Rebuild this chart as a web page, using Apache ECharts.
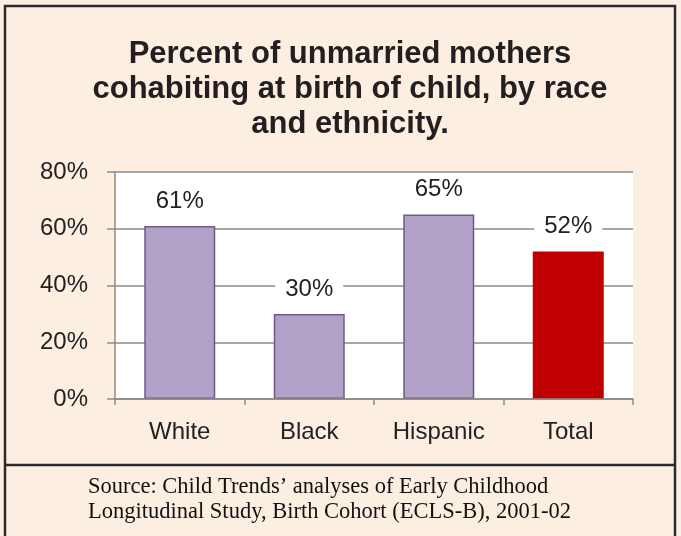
<!DOCTYPE html>
<html>
<head>
<meta charset="utf-8">
<script src="https://cdn.jsdelivr.net/npm/echarts@6/dist/echarts.min.js"></script>
<style>
html,body{margin:0;padding:0;background:#fdeee2;}
#c{width:681px;height:536px;}
</style>
</head>
<body>
<div id="c"></div>
<script>
var titleLines = ['Percent of unmarried mothers', 'cohabiting at birth of child, by race', 'and ethnicity.'];
var categories = ['White', 'Black', 'Hispanic', 'Total'];
var values = [61, 30, 65, 52];
var highlightCategory = 'Total';
var yTicks = [0, 20, 40, 60, 80];
var sourceLines = ['Source: Child Trends\u2019 analyses of Early Childhood', 'Longitudinal Study, Birth Cohort (ECLS-B), 2001-02'];

var chart = echarts.init(document.getElementById('c'), null, {renderer: 'canvas'});
var axisGray = '#8a8a8a';
var textDark = '#222';

var barData = values.map(function (v, i) {
  var isHi = categories[i] === highlightCategory;
  return {
    value: v,
    itemStyle: isHi ? {color: '#c00000', borderColor: '#c00000', borderWidth: 0}
                    : {color: '#b2a1c7', borderColor: '#6e5a8a', borderWidth: 1.5}
  };
});

chart.setOption({
  backgroundColor: '#fdeee2',
  animation: false,
  title: {
    text: titleLines.join('\n'),
    left: 345,
    textAlign: 'center',
    top: 32,
    textStyle: {
      fontFamily: 'Liberation Sans',
      fontWeight: 'bold',
      fontSize: 31,
      lineHeight: 35,
      color: '#231f20'
    }
  },
  grid: {
    left: 115, top: 172, right: 48, bottom: 137,
    show: true, backgroundColor: '#ffffff', borderWidth: 0
  },
  xAxis: {
    type: 'category',
    data: categories,
    axisLine: {show: true, lineStyle: {color: axisGray, width: 1.5}},
    axisTick: {show: true, alignWithLabel: false, length: 6, lineStyle: {color: axisGray, width: 1.5}},
    axisLabel: {margin: 21, fontFamily: 'Liberation Sans', fontSize: 24, color: textDark},
    z: 5
  },
  yAxis: {
    type: 'value',
    min: yTicks[0],
    max: yTicks[yTicks.length - 1],
    interval: yTicks[1] - yTicks[0],
    axisLine: {show: true, lineStyle: {color: axisGray, width: 1.5}},
    axisTick: {show: true, length: 8, lineStyle: {color: axisGray, width: 1.5}},
    axisLabel: {margin: 27, fontFamily: 'Liberation Sans', fontSize: 24, color: textDark, formatter: '{value}%'},
    splitLine: {show: true, lineStyle: {color: axisGray, width: 1.5}}
  },
  series: [{
    type: 'bar',
    data: barData,
    barWidth: 71,
    label: {
      show: true,
      position: 'top',
      distance: 13,
      formatter: '{c}%',
      fontFamily: 'Liberation Sans',
      fontSize: 24,
      color: textDark,
      backgroundColor: '#ffffff',
      padding: [0, 10]
    },
    z: 3
  }],
  graphic: [
    {
      type: 'rect',
      shape: {x: 5, y: 6, width: 670, height: 540},
      style: {fill: 'none', stroke: '#2b2b2b', lineWidth: 2.5},
      z: 100
    },
    {
      type: 'line',
      shape: {x1: 5, y1: 465, x2: 675, y2: 465},
      style: {stroke: '#2b2b2b', lineWidth: 2.5},
      z: 100
    },
    {
      type: 'text',
      left: 88,
      top: 475,
      style: {
        text: sourceLines.join('\n'),
        fontFamily: 'Liberation Serif',
        fontSize: 22.5,
        lineHeight: 25,
        fill: '#111'
      },
      z: 100
    }
  ]
});
</script>
</body>
</html>
